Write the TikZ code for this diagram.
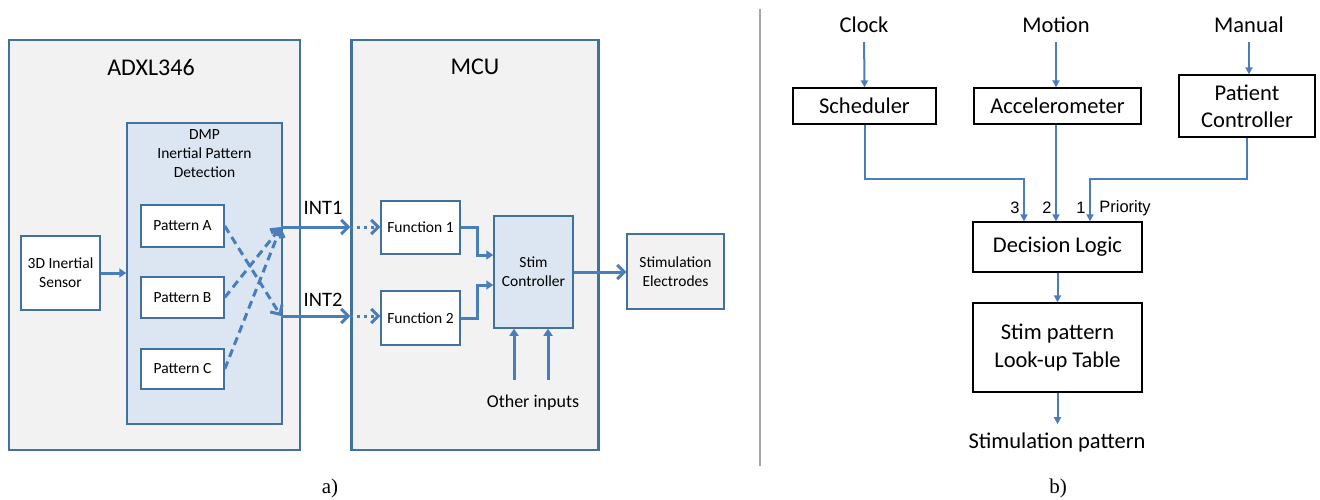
\documentclass[tikz,border=0pt]{standalone}
\usepackage{fontspec}
\setmainfont{Carlito}
\newfontfamily\arialf{Liberation Sans}
\newfontfamily\timesf{Liberation Serif}
\usetikzlibrary{arrows.meta,calc}
\definecolor{boxline}{HTML}{41719C}
\definecolor{conn}{HTML}{4A7EBB}
\definecolor{grayfill}{HTML}{F2F2F2}
\definecolor{bluefill}{HTML}{DCE6F2}
\definecolor{sepcol}{HTML}{A6A6A6}
\begin{document}
\begin{tikzpicture}[x=1pt,y=-1pt,
  bigbox/.style={draw=boxline, line width=2.5pt, fill=grayfill, inner sep=0},
  dmpbox/.style={draw=boxline, line width=1.5pt, fill=bluefill, inner sep=0},
  smallbox/.style={draw=boxline, line width=1.5pt, fill=white, inner sep=0, align=center, font={\fontsize{15.5}{19}\selectfont}},
  stimbox/.style={draw=boxline, line width=1.5pt, fill=bluefill, inner sep=0, align=center, font={\fontsize{15.5}{19}\selectfont}},
  elecbox/.style={draw=boxline, line width=1.5pt, fill=grayfill, inner sep=0, align=center, font={\fontsize{15.5}{19}\selectfont}},
  titletext/.style={font={\fontsize{24}{28}\selectfont}, inner sep=0},
  inttext/.style={font={\fontsize{20.5}{24}\selectfont}, inner sep=0},
  smalltext/.style={font={\fontsize{15.5}{19}\selectfont}, inner sep=0, align=center},
  bwbox/.style={draw=black, line width=1.3pt, fill=white, inner sep=0, align=center, font={\fontsize{22.5}{27}\selectfont}},
  rtext/.style={font={\fontsize{22.5}{27}\selectfont}, inner sep=0},
  prio/.style={font={\arialf\fontsize{16.5}{19}\selectfont}, inner sep=0},
  captext/.style={font={\timesf\fontsize{21}{25}\selectfont}, inner sep=0},
  thickarr/.style={draw=conn, line width=3pt, -{Straight Barb[length=7pt,width=14pt,line width=3pt]}},
  dasharr/.style={draw=conn, line width=3pt, dash pattern=on 8pt off 5pt, -{Straight Barb[length=7pt,width=14pt,line width=3pt]}},
  dotarr/.style={draw=conn, line width=3pt, dash pattern=on 3pt off 4pt, -{Straight Barb[length=7pt,width=14pt,line width=3pt]}},
  filarr/.style={draw=conn, line width=3pt, -{Triangle[length=7pt,width=9pt]}},
  rarr/.style={draw=conn, line width=2pt, -{Triangle[length=7pt,width=7pt]}}
]
\useasboundingbox (0,0) rectangle (1320,500);

% ---------- panel a ----------
\node[bigbox, minimum width=291pt, minimum height=410pt] (adxl) at (154.5,245) {};
\node[titletext] (adxltitle) at (151,67) {ADXL346};
\node[bigbox, minimum width=247pt, minimum height=410pt] (mcu) at (475,245) {};
\node[titletext] (mcutitle) at (475,67) {MCU};

\node[dmpbox, minimum width=155pt, minimum height=301pt] (dmp) at (204.5,273.5) {};
\node[smalltext] (dmptext) at (204.5,154) {DMP\\Inertial Pattern\\Detection};

\node[smallbox, minimum width=83pt, minimum height=42pt] (patA) at (182.5,226) {Pattern A};
\node[smallbox, minimum width=83pt, minimum height=41pt] (patB) at (182.5,297.5) {Pattern B};
\node[smallbox, minimum width=83pt, minimum height=40pt] (patC) at (182.5,369) {Pattern C};
\node[smallbox, minimum width=79pt, minimum height=74pt] (sensor) at (60.5,273) {3D Inertial\\Sensor};

\node[smallbox, minimum width=79pt, minimum height=53pt] (f1) at (420.5,227.5) {Function 1};
\node[smallbox, minimum width=79pt, minimum height=54pt] (f2) at (420.5,318) {Function 2};
\node[stimbox, minimum width=79pt, minimum height=112pt] (stim) at (533.5,272) {Stim\\Controller};
\node[elecbox, minimum width=97pt, minimum height=75pt] (elec) at (675.5,271.5) {Stimulation\\Electrodes};

\node[inttext] (int1) at (323,208) {INT1};
\node[inttext] (int2) at (323,300) {INT2};
\node[font={\fontsize{18}{21}\selectfont}, inner sep=0] (other) at (533,403) {Other inputs};

\coordinate (j1) at (281,227);
\coordinate (j2) at (281,316);
\coordinate (o1) at (514,380);
\coordinate (o2) at (548,380);

\draw[filarr] (sensor.east) -- (sensor.east -| dmp.west);
\draw[dasharr] (patA.east) -- (j2);
\draw[dasharr] (patB.east) -- (j1);
\draw[dasharr] (patC.east) -- (j1);
\draw[thickarr] (j1) -- (j1 -| mcu.west);
\draw[thickarr] (j2) -- (j2 -| mcu.west);
\draw[dotarr] (j1 -| mcu.west) -- (j1 -| f1.west);
\draw[dotarr] (j2 -| mcu.west) -- (j2 -| f2.west);
\draw[filarr] (f1.east) -- ++(17,0) |- ([yshift=17pt]stim.west);
\draw[filarr] (f2.east) -- ++(17,0) |- ([yshift=-13pt]stim.west);
\draw[thickarr] (stim.east) -- (stim.east -| elec.west);
\draw[filarr] (o1) -- (o1 |- stim.south);
\draw[filarr] (o2) -- (o2 |- stim.south);

\node[captext] (capa) at (330,488) {a)};

% separator
\draw[sepcol, line width=2pt] (760,9) -- (760,466);

% ---------- panel b ----------
\node[rtext] (clock) at (864,25) {Clock};
\node[rtext] (motion) at (1056,25) {Motion};
\node[rtext] (manual) at (1249,25) {Manual};

\node[bwbox, minimum width=143pt, minimum height=36pt] (sched) at (864.5,106) {Scheduler};
\node[bwbox, minimum width=167pt, minimum height=36pt] (accel) at (1057.5,106) {Accelerometer};
\node[bwbox, minimum width=136pt, minimum height=62pt] (patient) at (1247,106) {Patient\\Controller};
\node[bwbox, minimum width=169pt, minimum height=50pt] (decision) at (1057.5,247) {Decision Logic};
\node[bwbox, minimum width=169pt, minimum height=89pt, font={\fontsize{22.5}{28}\selectfont}] (lut) at (1057.5,347.5) {Stim pattern\\Look-up Table};
\node[rtext] (stimpat) at (1057,442) {Stimulation pattern};

\node[prio] (l3) at (1015,208) {3};
\node[prio] (l2) at (1047,208) {2};
\node[prio] (l1) at (1081,208) {1};
\node[prio] (ptext) at (1125,208) {Priority};

\draw[rarr, shorten <=9pt] (clock.south) -- (sched.north);
\draw[rarr, shorten <=9pt] (motion.south) -- (motion.south |- accel.north);
\draw[rarr, shorten <=9pt] (manual.south) -- (manual.south |- patient.north);

\coordinate (h3) at (1024,179);
\coordinate (h1) at (1090,179);
\draw[rarr] (sched.south) |- (h3) -- (h3 |- decision.north);
\draw[rarr] (accel.south -| motion.south) -- (motion.south |- decision.north);
\draw[rarr] (patient.south) |- (h1) -- (h1 |- decision.north);
\draw[rarr] (decision.south) -- (lut.north);
\draw[rarr, shorten >=8pt] (lut.south) -- (lut.south |- stimpat.north);

\node[captext] (capb) at (1058,488) {b)};
\end{tikzpicture}
\end{document}
